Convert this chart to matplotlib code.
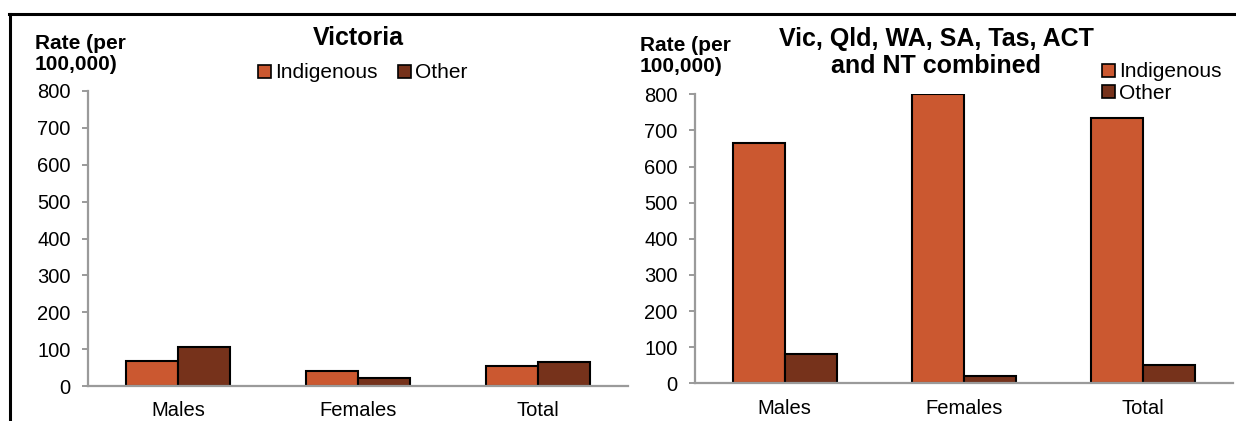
import matplotlib

matplotlib.use('Agg')
from matplotlib import pyplot as plt
from matplotlib.patches import Rectangle
from matplotlib.lines import Line2D
import numpy as np

plt.rcParams['font.family'] = ['Liberation Sans', 'DejaVu Sans']

categories = ['Males', 'Females', 'Total']
series_names = ['Indigenous', 'Other']
vic_indigenous = [68, 41, 54]
vic_other = [106, 22, 64]
comb_indigenous = [664, 800, 734]
comb_other = [80, 20, 50]
y_ticks = [0, 100, 200, 300, 400, 500, 600, 700, 800]

c_ind = '#CB5830'
c_oth = '#76321B'
axis_grey = '#9A9A9A'

W, H = 1236, 421
fig = plt.figure(figsize=(W / 100, H / 100), dpi=100)


def fx(px):
    return px / W


def fy(py):
    return 1 - py / H


def draw_panel(rect, ind, oth):
    ax = fig.add_axes(rect)
    x = np.arange(len(categories))
    w = 0.29
    ax.bar(x - w / 2, ind, w, color=c_ind, edgecolor='black', linewidth=1.5, zorder=3)
    ax.bar(x + w / 2, oth, w, color=c_oth, edgecolor='black', linewidth=1.5, zorder=3)
    ax.set_xlim(-0.5, len(categories) - 0.5)
    ax.set_ylim(0, 800)
    ax.set_yticks(y_ticks)
    ax.set_xticks(x)
    ax.set_xticklabels(categories)
    for s in ['top', 'right']:
        ax.spines[s].set_visible(False)
    for s in ['left', 'bottom']:
        ax.spines[s].set_color(axis_grey)
        ax.spines[s].set_linewidth(1.6)
    ax.spines['bottom'].set_zorder(4)
    ax.tick_params(axis='y', length=4.5, width=1.4, color=axis_grey, pad=8, labelsize=14.5)
    ax.tick_params(axis='x', length=0, pad=11, labelsize=14.5)
    return ax


ax1 = draw_panel([fx(88), fy(386), fx(628) - fx(88), fy(91) - fy(386)], vic_indigenous, vic_other)
ax2 = draw_panel([fx(695), fy(383.3), fx(1233) - fx(695), fy(94.3) - fy(383.3)], comb_indigenous, comb_other)

# axis titles and chart titles
fig.text(fx(35), fy(54), 'Rate (per\n100,000)', ha='left', va='center', fontsize=15,
         fontweight='bold', linespacing=1.1)
fig.text(fx(640), fy(56), 'Rate (per\n100,000)', ha='left', va='center', fontsize=15,
         fontweight='bold', linespacing=1.1)
fig.text(fx(358), fy(38), 'Victoria', ha='center', va='center', fontsize=18, fontweight='bold')
fig.text(fx(936), fy(52.5), 'Vic, Qld, WA, SA, Tas, ACT\nand NT combined', ha='center', va='center',
         fontsize=18, fontweight='bold', linespacing=1.12)

handles = [Rectangle((0, 0), 1, 1, facecolor=c_ind, edgecolor='black', linewidth=1.2),
           Rectangle((0, 0), 1, 1, facecolor=c_oth, edgecolor='black', linewidth=1.2)]

fig.legend(handles, series_names, loc='center left', bbox_to_anchor=(fx(258), fy(73)), ncol=2,
           frameon=False, fontsize=15, handlelength=0.6, handleheight=0.6, handletextpad=0.2,
           columnspacing=1.0, borderpad=0, borderaxespad=0)
fig.legend(handles, series_names, loc='center left', bbox_to_anchor=(fx(1102), fy(82.5)), ncol=1,
           frameon=False, fontsize=15, handlelength=0.6, handleheight=0.6, handletextpad=0.2,
           labelspacing=0.1, borderpad=0, borderaxespad=0)

# outer frame (top and left edges visible)
fig.add_artist(Line2D([fx(9), fx(1236)], [fy(13.5), fy(13.5)], color='black', linewidth=2.2))
fig.add_artist(Line2D([fx(9.5), fx(9.5)], [fy(13.5), 0], color='black', linewidth=2.2))

plt.savefig('out.png', dpi=100)
plt.close('all')
